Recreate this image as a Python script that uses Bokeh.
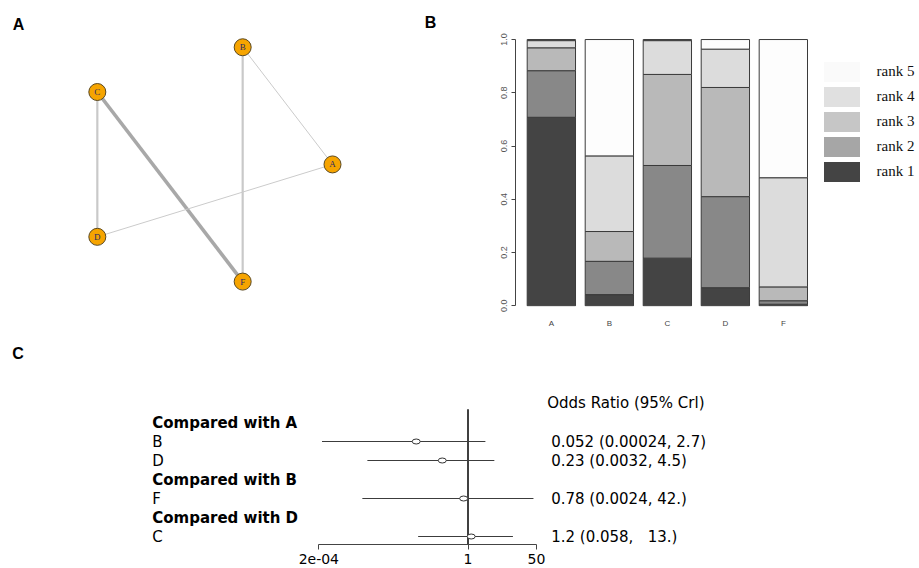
import math
from bokeh.plotting import figure
from bokeh.models import (ColumnDataSource, Range1d, FixedTicker, PrintfTickFormatter,
                          Legend, LegendItem, Label)
from bokeh.layouts import column, row
from bokeh.core.properties import value
from bokeh.embed import file_html
from bokeh.resources import INLINE

# ---------------- data ----------------
treatments = ["A", "B", "C", "D", "F"]

# network edges (number of studies per direct comparison)
edge_from = ["B", "B", "C", "C", "D"]
edge_to = ["A", "F", "D", "F", "A"]
edge_studies = [1, 2, 2, 3, 1]

# rank probabilities per treatment
rank_names = ["rank 1", "rank 2", "rank 3", "rank 4", "rank 5"]
rank1 = [0.708, 0.042, 0.179, 0.068, 0.006]
rank2 = [0.175, 0.125, 0.348, 0.342, 0.013]
rank3 = [0.086, 0.112, 0.342, 0.410, 0.052]
rank4 = [0.027, 0.284, 0.127, 0.144, 0.410]
rank5 = [0.004, 0.437, 0.004, 0.036, 0.519]
prob_ticks = [0.0, 0.2, 0.4, 0.6, 0.8, 1.0]

# forest plot
baselines = ["A", "B", "D"]
comparators = [["B", "D"], ["F"], ["C"]]
odds_ratio = [0.052, 0.23, 0.78, 1.2]
cri_low = [0.00024, 0.0032, 0.0024, 0.058]
cri_high = [2.7, 4.5, 42.0, 13.0]
or_text = ["0.052 (0.00024, 2.7)", "0.23 (0.0032, 4.5)",
           "0.78 (0.0024, 42.)", "1.2 (0.058,\u00a0\u00a0 13.)"]
or_ticks = [0.0002, 1, 50]
or_tick_labels = ["2e-04", "1", "50"]

# ---------------- layout constants ----------------
PANEL_FONT = "Liberation Sans"
H1 = 330                 # height of the top row
BOT1 = 22                # bottom border of the top row
W_A = 440
W_B = 919 - W_A

def panel_label(txt, x, y):
    return Label(x=x, y=y, x_units="canvas", y_units="canvas", text=txt,
                 text_font=PANEL_FONT, text_font_style="bold", text_font_size="16px",
                 text_align="center", text_baseline="middle", text_color="black")

# ---------------- panel A: network ----------------
cx, cy, rx, ry = 202.0, 165.0, 130.0, 124.0
fh_a = H1 - BOT1
pa = figure(width=W_A, height=H1, output_backend="svg", toolbar_location=None,
            x_range=Range1d(-cx / rx, (W_A - cx) / rx),
            y_range=Range1d(-(fh_a - cy) / ry, cy / ry),
            x_axis_location=None, y_axis_location=None,
            min_border_left=0, min_border_right=0, min_border_top=0,
            min_border_bottom=BOT1)
pa.outline_line_color = None
pa.grid.visible = False

n = len(treatments)
pos = {t: (math.cos(2 * math.pi * i / n), math.sin(2 * math.pi * i / n))
       for i, t in enumerate(treatments)}
w_map = {1: 1.0, 2: 2.2, 3: 3.6}
c_map = {1: "#cbcbcb", 2: "#c9c9c9", 3: "#a8a8a8"}
esrc = ColumnDataSource(dict(
    x0=[pos[a][0] for a in edge_from], y0=[pos[a][1] for a in edge_from],
    x1=[pos[b][0] for b in edge_to], y1=[pos[b][1] for b in edge_to],
    w=[w_map[s] for s in edge_studies], c=[c_map[s] for s in edge_studies]))
pa.segment(x0="x0", y0="y0", x1="x1", y1="y1", line_width="w", line_color="c", source=esrc)
nsrc = ColumnDataSource(dict(x=[pos[t][0] for t in treatments],
                             y=[pos[t][1] for t in treatments], t=treatments))
pa.scatter(x="x", y="y", size=17, fill_color="#f6a400", line_color="#5a4820",
           line_width=1, source=nsrc)
pa.text(x="x", y="y", text="t", source=nsrc, text_align="center", text_baseline="middle",
        text_font=value("Liberation Serif"), text_font_size="9px", text_color="#2a2a66")
pa.add_layout(panel_label("A", 18, 24))
pa.add_layout(panel_label("B", 430, 21.5))

# ---------------- panel B: rankogram ----------------
FRAME_L = 515.0          # screen x of the frame's left edge
PX_BAR = 48.33           # pixels per bar unit
BAR_A_LEFT = 526.7       # screen x of the first bar's left edge
PX_P = 268.0             # pixels per unit probability
Y0, Y1 = 307.3, 39.3     # screen y of prob 0 and 1
fh_b = H1 - BOT1
pb = figure(width=W_B, height=H1, output_backend="svg", toolbar_location=None,
            x_range=Range1d(0.2 - (BAR_A_LEFT - FRAME_L) / PX_BAR,
                            0.2 + (919 - BAR_A_LEFT) / PX_BAR),
            y_range=Range1d(-(fh_b - Y0) / PX_P, 1 + Y1 / PX_P),
            min_border_left=int(FRAME_L - W_A), min_border_right=0, min_border_top=0,
            min_border_bottom=BOT1)
pb.outline_line_color = None
pb.grid.visible = False
x_centers = [round(0.7 + 1.2 * i, 1) for i in range(len(treatments))]
bsrc = ColumnDataSource(dict(x=x_centers, r1=rank1, r2=rank2, r3=rank3, r4=rank4, r5=rank5))
bar_colors = ["#444444", "#888888", "#b9b9b9", "#dcdcdc", "#fdfdfd"]
legend_colors = ["#444444", "#a6a6a6", "#c6c6c6", "#e0e0e0", "#fafafa"]
pb.vbar_stack(["r1", "r2", "r3", "r4", "r5"], x="x", width=1.0, source=bsrc,
              fill_color=bar_colors, line_color="#3a3a3a", line_width=1)
# legend-only renderers (no drawable bar: NaN data)
dummies = [pb.vbar(x=[float("nan")], top=[float("nan")], width=1.0, fill_color=c,
                   line_color=None) for c in legend_colors]
items = [LegendItem(label=rank_names[k], renderers=[dummies[k]]) for k in range(4, -1, -1)]
GW, GH = 45, 25          # legend glyph slot (drawn box is 80% of it)
LEG_LEFT, LEG_TOP = 823 - 0.1 * GW, 63 - 0.1 * GH
legend = Legend(items=items,
                location=(LEG_LEFT - FRAME_L, fh_b - LEG_TOP - 5 * GH),
                border_line_color=None, background_fill_alpha=0, padding=0, margin=0,
                spacing=0, glyph_width=GW, glyph_height=GH, label_height=GH,
                label_standoff=int(877 - LEG_LEFT - GW), label_text_font="Liberation Serif",
                label_text_font_size="15px", label_text_color="#111111")
pb.add_layout(legend)

ya = pb.yaxis[0]
ya.ticker = FixedTicker(ticks=prob_ticks)
ya.formatter = PrintfTickFormatter(format="%.1f")
ya.bounds = (0, 1)
ya.major_label_orientation = "vertical"
ya.major_tick_out = 4
ya.major_tick_in = 0
ya.minor_tick_line_color = None
ya.major_label_standoff = 4
ya.major_label_text_font = PANEL_FONT
ya.major_label_text_font_size = "9px"
ya.major_label_text_color = "#555555"
ya.axis_line_color = "#444444"
ya.major_tick_line_color = "#444444"

xa = pb.xaxis[0]
xa.ticker = FixedTicker(ticks=x_centers)
xa.major_label_overrides = dict(zip(x_centers, treatments))
xa.axis_line_color = None
xa.major_tick_line_color = None
xa.minor_tick_line_color = None
xa.major_tick_out = 0
xa.major_tick_in = 0
xa.major_label_standoff = 12
xa.major_label_text_font = PANEL_FONT
xa.major_label_text_font_size = "8px"
xa.major_label_text_color = "#444444"

# ---------------- panel C: forest plot ----------------
C_H = 568 - H1
C_BOT = 24
PXD = 40.33            # pixels per decade
X1 = 467.5             # screen x of OR = 1
frame_bottom = C_H - C_BOT
row0, row_step = 422 - H1, 19.0
y_start = (frame_bottom - row0) / row_step
y_end = (0 - row0) / row_step

def to_or(canvas_x):
    return 10 ** ((canvas_x - X1) / PXD)

pc = figure(width=919, height=C_H, output_backend="svg", toolbar_location=None,
            x_axis_type="log", x_range=Range1d(to_or(0), to_or(919)),
            y_range=Range1d(start=y_start, end=y_end),
            y_axis_location=None, min_border_left=0, min_border_right=0,
            min_border_top=0, min_border_bottom=C_BOT)
pc.outline_line_color = None
pc.grid.visible = False

header_rows, header_text, item_rows, item_text = [], [], [], []
r = 0
for base, comps in zip(baselines, comparators):
    header_rows.append(r)
    header_text.append(f"Compared with {base}")
    r += 1
    for c in comps:
        item_rows.append(r)
        item_text.append(c)
        r += 1

fsrc = ColumnDataSource(dict(row=item_rows, lab=item_text, est=odds_ratio,
                             lo=cri_low, hi=cri_high, txt=or_text))
hsrc = ColumnDataSource(dict(row=header_rows, lab=header_text))

pc.segment(x0=[1], x1=[1], y0=[-0.7], y1=[y_start], line_color="black", line_width=1.5)
pc.segment(x0="lo", x1="hi", y0="row", y1="row", source=fsrc, line_color="#3c3c3c",
           line_width=1)
pc.ellipse(x="est", y="row", width=8, height=5, width_units="screen",
           height_units="screen", source=fsrc, fill_color="white",
           line_color="#333333", line_width=1)

TXT_FONT = value("DejaVu Sans")
pc.text(x=to_or(151.7), y="row", text="lab", source=hsrc, text_font=TXT_FONT,
        text_font_style="bold", text_font_size="15px", text_baseline="middle",
        text_color="black")
pc.text(x=to_or(151.7), y="row", text="lab", source=fsrc, text_font=TXT_FONT,
        text_font_size="15px", text_baseline="middle", text_color="black")
pc.text(x=to_or(550.7), y="row", text="txt", source=fsrc, text_font=TXT_FONT,
        text_font_size="15px", text_baseline="middle", text_color="black")
pc.add_layout(Label(x=to_or(546.7), y=(402 - H1 - row0) / row_step,
                    text="Odds Ratio (95% Crl)", text_font="DejaVu Sans",
                    text_font_size="15px", text_baseline="middle", text_color="black"))

xc = pc.xaxis[0]
xc.ticker = FixedTicker(ticks=or_ticks)
xc.major_label_overrides = dict(zip(or_ticks, or_tick_labels))
xc.bounds = (or_ticks[0], or_ticks[-1])
xc.major_tick_out = 5
xc.major_tick_in = 0
xc.minor_tick_line_color = None
xc.major_label_standoff = 4
xc.major_label_text_font = "DejaVu Sans"
xc.major_label_text_font_size = "14px"
xc.major_label_text_color = "black"
xc.axis_line_color = "#444444"
xc.major_tick_line_color = "#444444"
pc.add_layout(panel_label("C", 17.5, 353 - H1))

layout = column(row(pa, pb), pc)
open("out.html", "w").write(file_html(layout, INLINE, "plot"))
